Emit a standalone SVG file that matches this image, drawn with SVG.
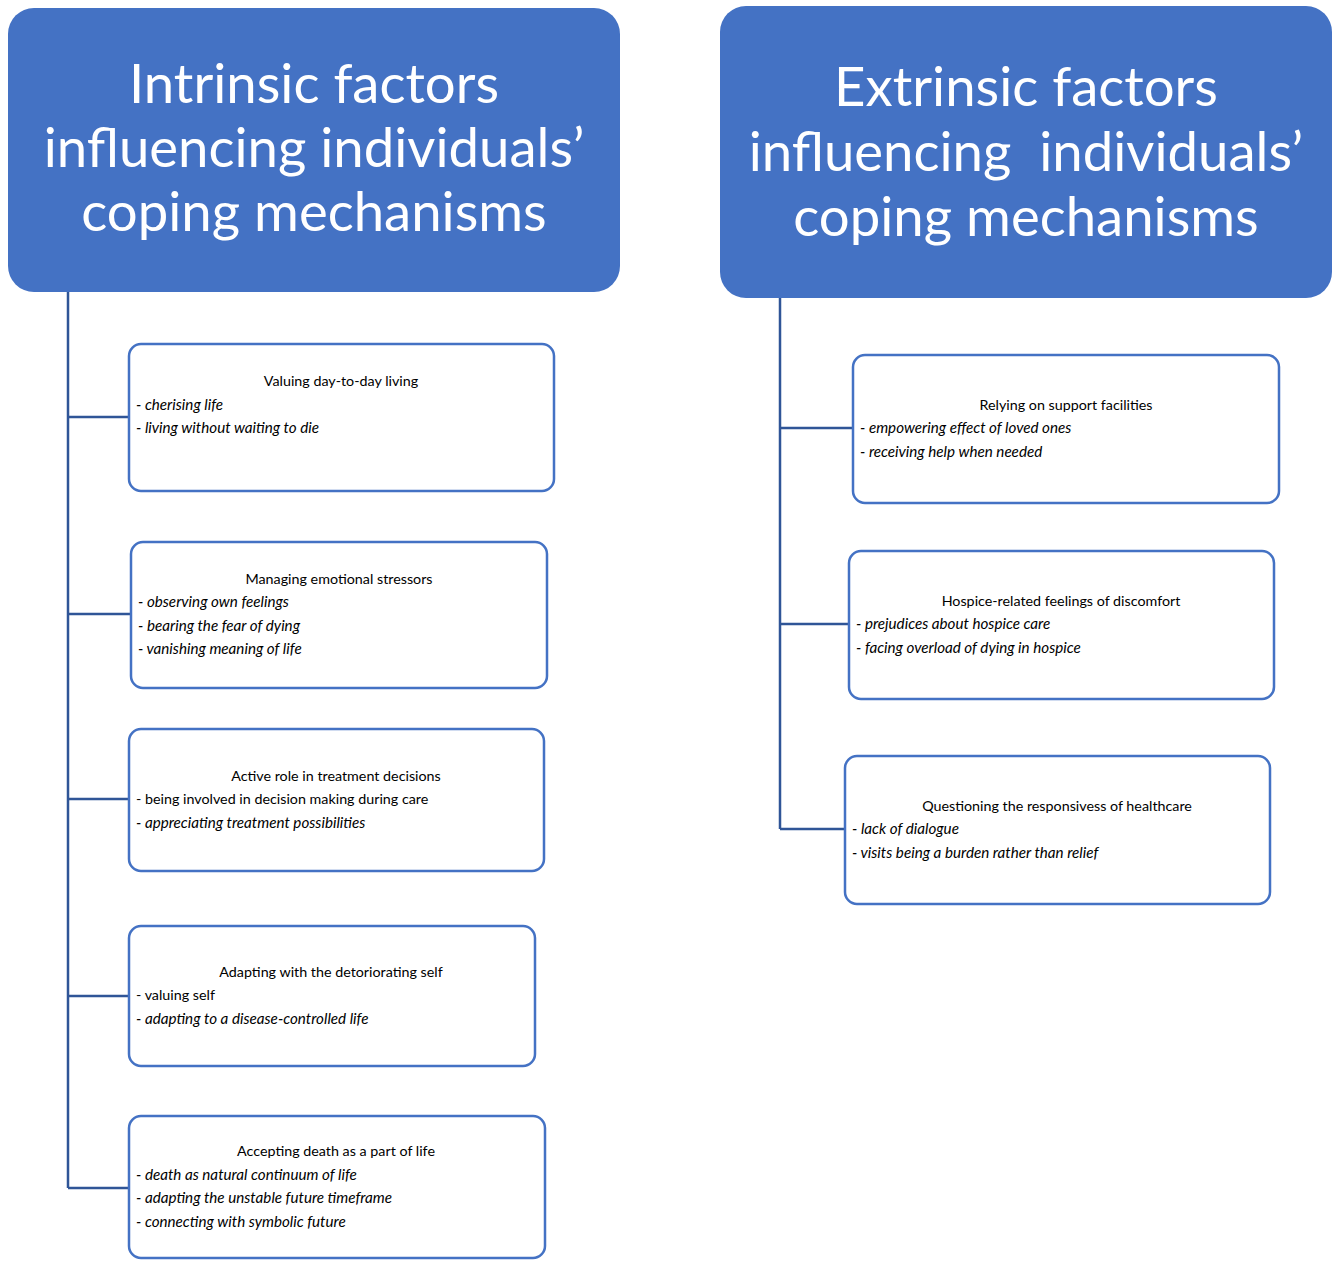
<svg xmlns="http://www.w3.org/2000/svg" width="1336" height="1266" viewBox="0 0 1336 1266">
<style>
.hdr{fill:#4472C4}
.ht{font-family:Lato,"Open Sans",sans-serif;font-size:54.5px;fill:#fff;text-anchor:middle}
.box{fill:#fff;stroke:#4472C4;stroke-width:2.5}
.t{font-family:Lato,"Open Sans",sans-serif;font-size:14.3px;fill:#000}
.c{text-anchor:middle}
.i{font-style:italic;font-size:15.2px}
.con{stroke:#2F5597;stroke-width:2.5;fill:none}
</style>
<rect width="1336" height="1266" fill="#fff"/>
<g id="connectors">
<path class="con" d="M68 292V1188M68 417H129M68 614H131M68 799H129M68 996H129M68 1188H129"/>
<path class="con" d="M780 298V829M780 428H853M780 624H849M780 829H845"/>
</g>
<g id="intrinsic">
<rect class="hdr" x="8" y="8" width="612" height="284" rx="26"/>
<text class="ht" x="314" y="103">Intrinsic factors</text>
<text class="ht" x="314" y="167">influencing individuals’</text>
<text class="ht" x="314" y="231">coping mechanisms</text>
</g>
<g id="extrinsic">
<rect class="hdr" x="720" y="6" width="612" height="292" rx="26"/>
<text class="ht" x="1026" y="106">Extrinsic factors</text>
<text class="ht" x="1026" y="171" xml:space="preserve">influencing  individuals’</text>
<text class="ht" x="1026" y="236">coping mechanisms</text>
</g>
<g id="n1">
<rect class="box" x="129" y="344" width="425" height="147" rx="12"/>
<text class="t c" x="341" y="386">Valuing day-to-day living</text>
<text class="t i" x="136" y="410">- cherising life</text>
<text class="t i" x="136" y="433">- living without waiting to die</text>
</g>
<g id="n2">
<rect class="box" x="131" y="542" width="416" height="146" rx="12"/>
<text class="t c" x="339" y="584">Managing emotional stressors</text>
<text class="t i" x="138" y="607">- observing own feelings</text>
<text class="t i" x="138" y="631">- bearing the fear of dying</text>
<text class="t i" x="138" y="654">- vanishing meaning of life</text>
</g>
<g id="n3">
<rect class="box" x="129" y="729" width="415" height="142" rx="12"/>
<text class="t c" x="336" y="781">Active role in treatment decisions</text>
<text class="t" x="136" y="804">- being involved in decision making during care</text>
<text class="t i" x="136" y="828">- appreciating treatment possibilities</text>
</g>
<g id="n4">
<rect class="box" x="129" y="926" width="406" height="140" rx="12"/>
<text class="t c" x="331" y="977">Adapting with the detoriorating self</text>
<text class="t" x="136" y="1000">- valuing self</text>
<text class="t i" x="136" y="1024">- adapting to a disease-controlled life</text>
</g>
<g id="n5">
<rect class="box" x="129" y="1116" width="416" height="142" rx="12"/>
<text class="t c" x="336" y="1156">Accepting death as a part of life</text>
<text class="t i" x="136" y="1180">- death as natural continuum of life</text>
<text class="t i" x="136" y="1203">- adapting the unstable future timeframe</text>
<text class="t i" x="136" y="1227">- connecting with symbolic future</text>
</g>
<g id="r1">
<rect class="box" x="853" y="355" width="426" height="148" rx="12"/>
<text class="t c" x="1066" y="410">Relying on support facilities</text>
<text class="t i" x="860" y="433">- empowering effect of loved ones</text>
<text class="t i" x="860" y="457">- receiving help when needed</text>
</g>
<g id="r2">
<rect class="box" x="849" y="551" width="425" height="148" rx="12"/>
<text class="t c" x="1061" y="606">Hospice-related feelings of discomfort</text>
<text class="t i" x="856" y="629">- prejudices about hospice care</text>
<text class="t i" x="856" y="653">- facing overload of dying in hospice</text>
</g>
<g id="r3">
<rect class="box" x="845" y="756" width="425" height="148" rx="12"/>
<text class="t c" x="1057" y="811">Questioning the responsivess of healthcare</text>
<text class="t i" x="852" y="834">- lack of dialogue</text>
<text class="t i" x="852" y="858">- visits being a burden rather than relief</text>
</g>
</svg>
